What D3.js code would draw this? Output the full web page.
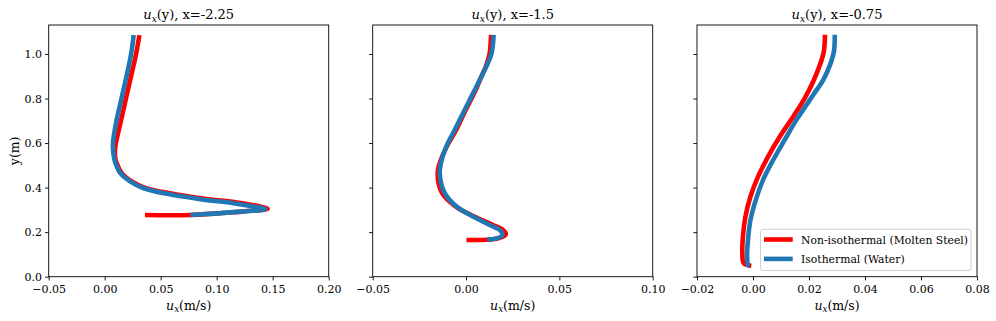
<!DOCTYPE html>
<html>
<head>
<meta charset="utf-8">
<script src="https://cdn.jsdelivr.net/npm/d3@7"></script>
<style>
  html, body { margin: 0; padding: 0; background: #fff; }
  svg { display: block; }
  svg text { font-family: "DejaVu Serif", serif; fill: #000; }
</style>
</head>
<body>
<svg id="chart" width="996" height="321"></svg>
<script>
// ---------- data (u in m/s, y in m) ----------
const panelTitles = ["-2.25", "-1.5", "-0.75"];
const seriesNames = ["Non-isothermal (Molten Steel)", "Isothermal (Water)"];
const seriesColors = ["#ff0000", "#1f77b4"];

// x = -2.25
const p1RedU  = [0.031, 0.028, 0.0235, 0.019, 0.0145, 0.0100, 0.0092, 0.0095, 0.0107, 0.0152, 0.0242, 0.0362, 0.0580, 0.0880, 0.1180, 0.1360, 0.1455, 0.1240, 0.0960, 0.0766, 0.0360];
const p1RedY  = [1.085, 1.000, 0.900, 0.800, 0.700, 0.600, 0.570, 0.530, 0.510, 0.465, 0.428, 0.399, 0.375, 0.351, 0.333, 0.318, 0.305, 0.293, 0.283, 0.277, 0.277];
const p1BlueU = [0.0259, 0.0236, 0.0195, 0.0150, 0.0105, 0.0074, 0.0075, 0.0085, 0.0096, 0.0140, 0.0230, 0.0348, 0.0557, 0.0854, 0.1150, 0.1330, 0.1435, 0.1210, 0.0940, 0.0766];
const p1BlueY = [1.085, 1.000, 0.900, 0.800, 0.700, 0.600, 0.570, 0.530, 0.510, 0.465, 0.427, 0.397, 0.372, 0.348, 0.330, 0.315, 0.303, 0.292, 0.282, 0.277];

// x = -1.5
const p2RedU  = [0.0134, 0.0126, 0.0106, 0.0082, 0.0060, 0.0026, -0.0010, -0.0053, -0.0093, -0.0130, -0.0152, -0.0128, -0.0055, 0.0045, 0.0145, 0.0198, 0.0213, 0.0172, 0.0113, 0.0002];
const p2RedY  = [1.086, 1.000, 0.944, 0.898, 0.854, 0.794, 0.734, 0.659, 0.600, 0.535, 0.465, 0.375, 0.315, 0.270, 0.232, 0.210, 0.190, 0.172, 0.166, 0.165];
const p2BlueU = [0.0148, 0.0136, 0.0109, 0.0082, 0.0056, 0.0020, -0.0016, -0.0061, -0.0097, -0.0127, -0.0141, -0.0114, -0.0051, 0.0038, 0.0127, 0.0180, 0.0195, 0.0163, 0.0113];
const p2BlueY = [1.086, 1.000, 0.944, 0.898, 0.854, 0.794, 0.734, 0.659, 0.600, 0.535, 0.465, 0.375, 0.315, 0.270, 0.232, 0.210, 0.187, 0.172, 0.167];

// x = -0.75
const p3RedU  = [0.0257, 0.0253, 0.0239, 0.0215, 0.0185, 0.0148, 0.0096, 0.0054, 0.0018, -0.0009, -0.0027, -0.0036, -0.0038, -0.0033, -0.0006];
const p3RedY  = [1.086, 1.011, 0.951, 0.876, 0.802, 0.727, 0.629, 0.539, 0.449, 0.360, 0.270, 0.180, 0.105, 0.060, 0.049];
const p3BlueU = [0.0292, 0.0289, 0.0275, 0.0251, 0.0215, 0.0179, 0.0155, 0.0113, 0.0072, 0.0036, 0.0010, -0.0009, -0.0018, -0.0021, -0.0018, -0.0012];
const p3BlueY = [1.086, 1.011, 0.951, 0.884, 0.816, 0.749, 0.704, 0.614, 0.524, 0.435, 0.345, 0.255, 0.165, 0.090, 0.053, 0.049];

// axis ticks
const p1XTicks = [-0.05, 0.00, 0.05, 0.10, 0.15, 0.20];
const p2XTicks = [-0.05, 0.00, 0.05, 0.10];
const p3XTicks = [-0.02, 0.00, 0.02, 0.04, 0.06, 0.08];
const yTicks = [0.0, 0.2, 0.4, 0.6, 0.8, 1.0];

// ---------- layout ----------
const FONT = "'DejaVu Serif', serif";
const svg = d3.select("#chart");
const plotTop = 25, plotBottom = 276.7;
const panelW = 280;
const panelX = [48.7, 372.7, 697.0];
const xDomains = [[-0.05, 0.20], [-0.05, 0.10], [-0.02, 0.08]];
const xTickSets = [p1XTicks, p2XTicks, p3XTicks];

const panels = [
  [{u: p1RedU, y: p1RedY}, {u: p1BlueU, y: p1BlueY}],
  [{u: p2RedU, y: p2RedY}, {u: p2BlueU, y: p2BlueY}],
  [{u: p3RedU, y: p3RedY}, {u: p3BlueU, y: p3BlueY}]
];

const yScale = d3.scaleLinear().domain([0, 1.13]).range([plotBottom, plotTop]);
const fmtMinus = s => s.replace("-", "\u2212");

function addUx(sel, size) {
  sel.append("tspan").attr("font-style", "italic").text("u");
  sel.append("tspan").attr("font-style", "italic").attr("font-size", size * 0.7)
     .attr("dy", size * 0.2).text("x");
  return sel;
}

panels.forEach((series, i) => {
  const x0 = panelX[i];
  const xScale = d3.scaleLinear().domain(xDomains[i]).range([x0, x0 + panelW]);
  const g = svg.append("g");

  // lines
  const line = d3.line()
    .x((d) => xScale(d[0]))
    .y((d) => yScale(d[1]))
    .curve(d3.curveCatmullRom.alpha(0.5));
  series.forEach((s, k) => {
    const pts = s.u.map((u, j) => [u, s.y[j]]);
    g.append("path").attr("d", line(pts)).attr("fill", "none")
      .attr("stroke", seriesColors[k]).attr("stroke-width", 4.6)
      .attr("stroke-linejoin", "round").attr("stroke-linecap", "butt");
  });

  // x axis
  const xAxis = d3.axisBottom(xScale).tickValues(xTickSets[i])
    .tickFormat(d => fmtMinus(d3.format(".2f")(d))).tickSize(3.7).tickPadding(5);
  const gx = g.append("g").attr("transform", `translate(0,${plotBottom})`).call(xAxis)
    .attr("font-family", FONT).attr("font-size", 11);
  gx.select(".domain").remove();
  gx.selectAll(".tick line").attr("stroke", "#000").attr("stroke-width", 0.9);

  // y axis
  const yAxis = d3.axisLeft(yScale).tickValues(yTicks)
    .tickFormat(i === 0 ? d3.format(".1f") : () => "").tickSize(3.7).tickPadding(3);
  const gy = g.append("g").attr("transform", `translate(${x0},0)`).call(yAxis)
    .attr("font-family", FONT).attr("font-size", 11);
  gy.select(".domain").remove();
  gy.selectAll(".tick line").attr("stroke", "#000").attr("stroke-width", 0.9);

  // frame
  g.append("rect").attr("x", x0).attr("y", plotTop).attr("width", panelW).attr("height", plotBottom - plotTop)
    .attr("fill", "none").attr("stroke", "#000").attr("stroke-width", 0.9);

  // title
  const t = g.append("text").attr("x", x0 + panelW / 2).attr("y", 19)
    .attr("text-anchor", "middle").attr("font-size", 13);
  addUx(t, 13);
  t.append("tspan").attr("dy", -13 * 0.2).text("(y), x=" + panelTitles[i]);

  // x label
  const xl = g.append("text").attr("x", x0 + panelW / 2).attr("y", 309.5)
    .attr("text-anchor", "middle").attr("font-size", 12.5);
  addUx(xl, 12.5);
  xl.append("tspan").attr("dy", -12.5 * 0.2).text("(m/s)");
});

// y label
svg.append("text").attr("transform", `translate(19,${(plotTop + plotBottom) / 2}) rotate(-90)`)
  .attr("text-anchor", "middle").attr("font-size", 12.5).text("y(m)");

// legend
const leg = svg.append("g");
leg.append("rect").attr("x", 760.5).attr("y", 229.3).attr("width", 210.5).attr("height", 41.2)
  .attr("rx", 2.5).attr("fill", "#fff").attr("fill-opacity", 0.8)
  .attr("stroke", "#cccccc").attr("stroke-width", 0.9);
seriesNames.forEach((name, k) => {
  const yy = 239.5 + k * 19.4;
  leg.append("line").attr("x1", 764).attr("x2", 792.7).attr("y1", yy).attr("y2", yy)
    .attr("stroke", seriesColors[k]).attr("stroke-width", 4.6);
  leg.append("text").attr("x", 801).attr("y", yy + 4).attr("font-size", 10.8).text(name);
});
</script>
</body>
</html>
